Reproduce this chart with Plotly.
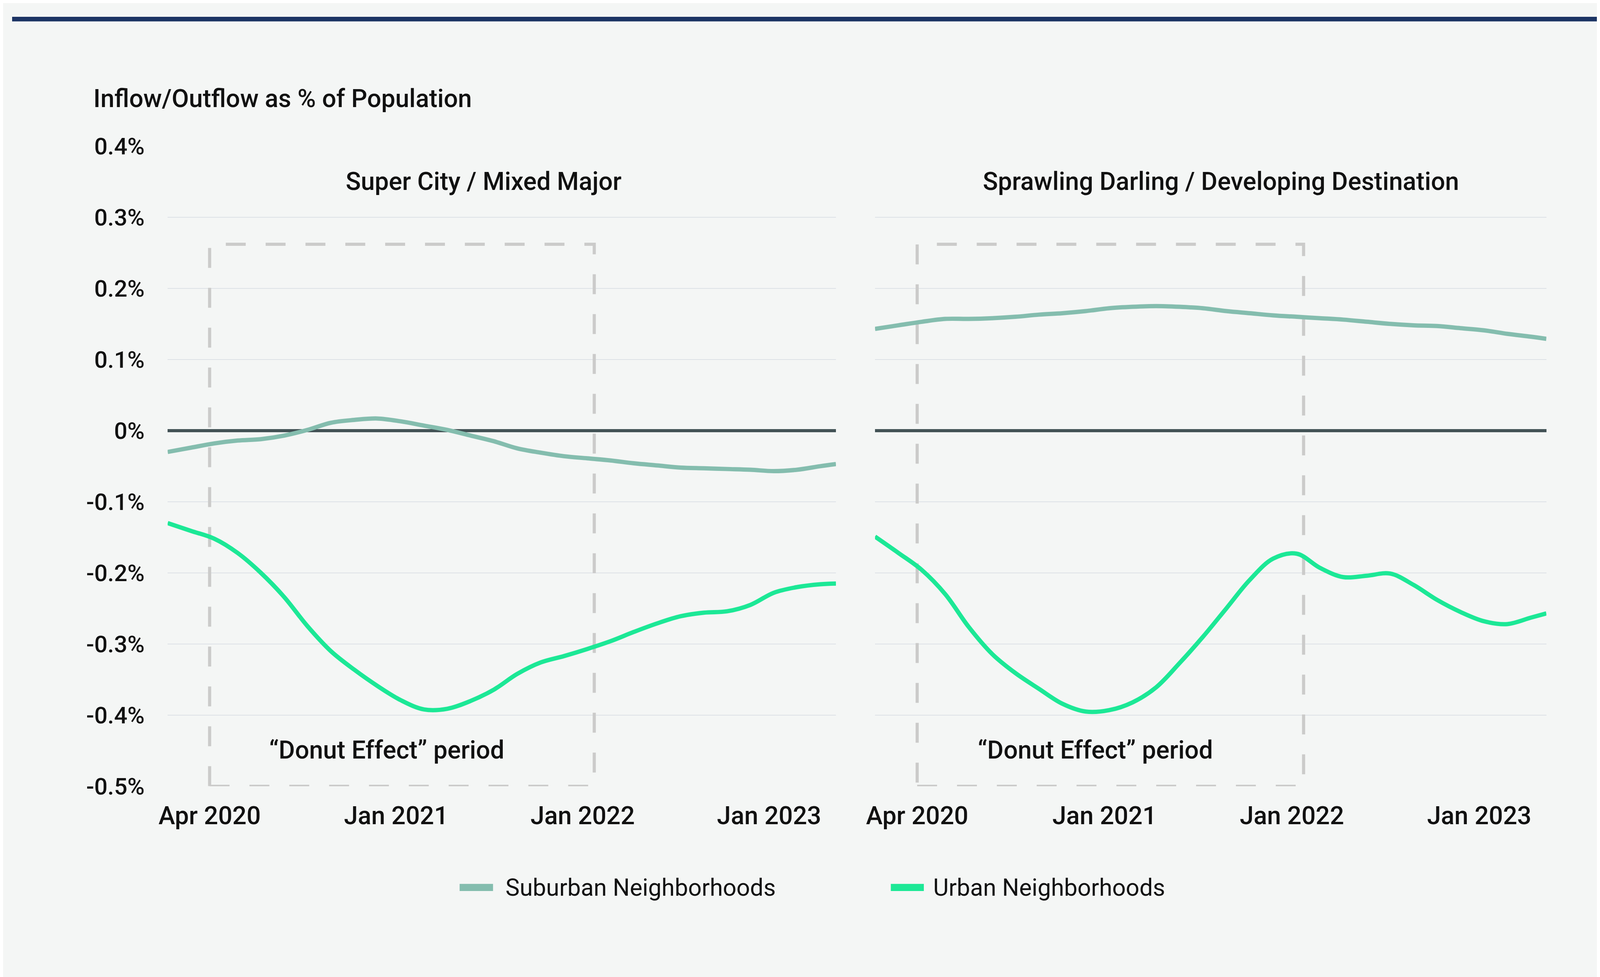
import plotly.graph_objects as go

# month offsets along the x axis (0 = "Apr 2020" tick)
months = [-2.7, -1.2, 0.3, 1.8, 3.3, 4.8, 6.3, 7.8, 9.3, 10.8, 12.3, 13.8, 15.3, 16.8, 18.3,
          19.8, 21.3, 22.8, 24.3, 25.8, 27.3, 28.8, 30.3, 31.8, 33.3, 34.8, 36.3, 37.8, 39.3, 40.3]

# Super City / Mixed Major
super_suburban = [-0.030, -0.024, -0.018, -0.014, -0.012, -0.007, 0.001, 0.011, 0.015, 0.017,
                  0.013, 0.007, 0.001, -0.007, -0.015, -0.025, -0.031, -0.036, -0.039, -0.042,
                  -0.046, -0.049, -0.052, -0.053, -0.054, -0.055, -0.057, -0.055, -0.050, -0.047]
super_urban = [-0.130, -0.141, -0.152, -0.172, -0.200, -0.234, -0.275, -0.310, -0.336, -0.359,
               -0.379, -0.392, -0.391, -0.380, -0.364, -0.342, -0.326, -0.317, -0.307, -0.296,
               -0.283, -0.271, -0.261, -0.256, -0.254, -0.245, -0.228, -0.220, -0.216, -0.215]

# Sprawling Darling / Developing Destination
sprawl_suburban = [0.143, 0.148, 0.153, 0.157, 0.157, 0.158, 0.160, 0.163, 0.165, 0.168,
                   0.172, 0.174, 0.175, 0.174, 0.172, 0.168, 0.165, 0.162, 0.160, 0.158,
                   0.156, 0.153, 0.150, 0.148, 0.147, 0.144, 0.141, 0.136, 0.132, 0.129]
sprawl_urban = [-0.149, -0.172, -0.196, -0.230, -0.276, -0.314, -0.341, -0.363, -0.384, -0.395,
                -0.393, -0.382, -0.361, -0.327, -0.290, -0.250, -0.210, -0.180, -0.173, -0.193,
                -0.206, -0.204, -0.201, -0.217, -0.238, -0.255, -0.268, -0.272, -0.263, -0.257]

tick_months = [0, 12, 24, 36]
tick_labels = ["Apr 2020", "Jan 2021", "Jan 2022", "Jan 2023"]
y_ticks = [0.4, 0.3, 0.2, 0.1, 0, -0.1, -0.2, -0.3, -0.4, -0.5]
y_labels = ["0.4%", "0.3%", "0.2%", "0.1%", "0%", "-0.1%", "-0.2%", "-0.3%", "-0.4%", "-0.5%"]
panel_titles = ["Super City / Mixed Major", "Sprawling Darling / Developing Destination"]
series_names = ["Suburban Neighborhoods", "Urban Neighborhoods"]
donut_label = "\u201cDonut Effect\u201d period"
donut_start, donut_end, donut_top = 0, 24.75, 0.262

SUB = "#84bdae"
URB = "#1ce896"
BG = "#f4f6f5"
INK = "#111111"
W, H = 4167, 2500

fig = go.Figure()
panels = [("x", "y", super_suburban, super_urban), ("x2", "y2", sprawl_suburban, sprawl_urban)]
for xa, ya, sub, urb in panels:
    fig.add_trace(go.Scatter(x=months, y=sub, mode="lines", xaxis=xa, yaxis=ya, name=series_names[0],
                             line=dict(color=SUB, width=11, shape="spline", smoothing=1), showlegend=False))
    fig.add_trace(go.Scatter(x=months, y=urb, mode="lines", xaxis=xa, yaxis=ya, name=series_names[1],
                             line=dict(color=URB, width=11, shape="spline", smoothing=1), showlegend=False))

xcommon = dict(range=[-2.7, 40.3], tickvals=tick_months, ticktext=tick_labels, showgrid=False,
               zeroline=False, showline=False, ticks="", ticklabelstandoff=32,
               tickfont=dict(family="Roboto", size=64, color=INK, weight=500))
ycommon = dict(range=[-0.5, 0.4], tickvals=y_ticks, ticktext=y_labels, showgrid=True,
               gridcolor="#dde1e6", gridwidth=2, zeroline=True, zerolinecolor="#435356",
               zerolinewidth=8, showline=False, ticks="", domain=[1 - 2026.5 / H, 1 - 340.4 / H])

fig.update_layout(
    width=W, height=H,
    margin=dict(l=0, r=0, t=0, b=0),
    paper_bgcolor=BG, plot_bgcolor=BG,
    showlegend=False,
    xaxis=dict(domain=[400.4 / W, 2120.7 / W], anchor="y", **xcommon),
    xaxis2=dict(domain=[2221.3 / W, 3949.5 / W], anchor="y2", **xcommon),
    yaxis=dict(anchor="x", ticklabelstandoff=58,
               tickfont=dict(family="Roboto", size=60, color=INK, weight=500), **ycommon),
    yaxis2=dict(anchor="x2", showticklabels=False, **ycommon),
)

# top rule
fig.add_shape(type="rect", xref="paper", yref="paper", x0=0, x1=1, y0=1 - 12 / H, y1=1,
              fillcolor="#1c3464", line_width=0)

# dashed "donut effect" boxes and labels, panel titles
for i, (xa, ya) in enumerate([("x", "y"), ("x2", "y2")]):
    fig.add_shape(type="rect", xref=xa, yref=ya, x0=donut_start, x1=donut_end, y0=-0.5, y1=donut_top,
                  line=dict(color="#cbcbca", width=8, dash="51px,51px"), layer="between")
    fig.add_annotation(xref=xa, yref=ya, x=11.4, y=-0.449, text=donut_label, showarrow=False,
                       xanchor="center", yanchor="middle",
                       font=dict(family="Roboto", size=64, color=INK, weight=500))
    fig.add_annotation(xref=xa + " domain", yref=ya, x=[0.473, 0.515][i], y=0.35, text=panel_titles[i],
                       showarrow=False, xanchor="center", yanchor="middle",
                       font=dict(family="Roboto", size=64, color=INK, weight=500))

# axis title
fig.add_annotation(xref="paper", yref="paper", x=207 / W, y=1 - 216 / H, text="Inflow/Outflow as % of Population",
                   showarrow=False, xanchor="left", yanchor="middle",
                   font=dict(family="Roboto", size=64, color=INK, weight=500))

# legend drawn by hand so the swatches keep their size
legend_items = [(1152, 1238, 1268, SUB, series_names[0]), (2262, 2347, 2369, URB, series_names[1])]
for x0, x1, tx, col, name in legend_items:
    fig.add_shape(type="rect", xref="paper", yref="paper", x0=x0 / W, x1=x1 / W,
                  y0=1 - 2302.5 / H, y1=1 - 2283.5 / H, fillcolor=col, line_width=0)
    fig.add_annotation(xref="paper", yref="paper", x=tx / W, y=1 - 2293 / H, text=name, showarrow=False,
                       xanchor="left", yanchor="middle",
                       font=dict(family="Roboto", size=61, color=INK, weight=400))

fig.write_html("out.html")
